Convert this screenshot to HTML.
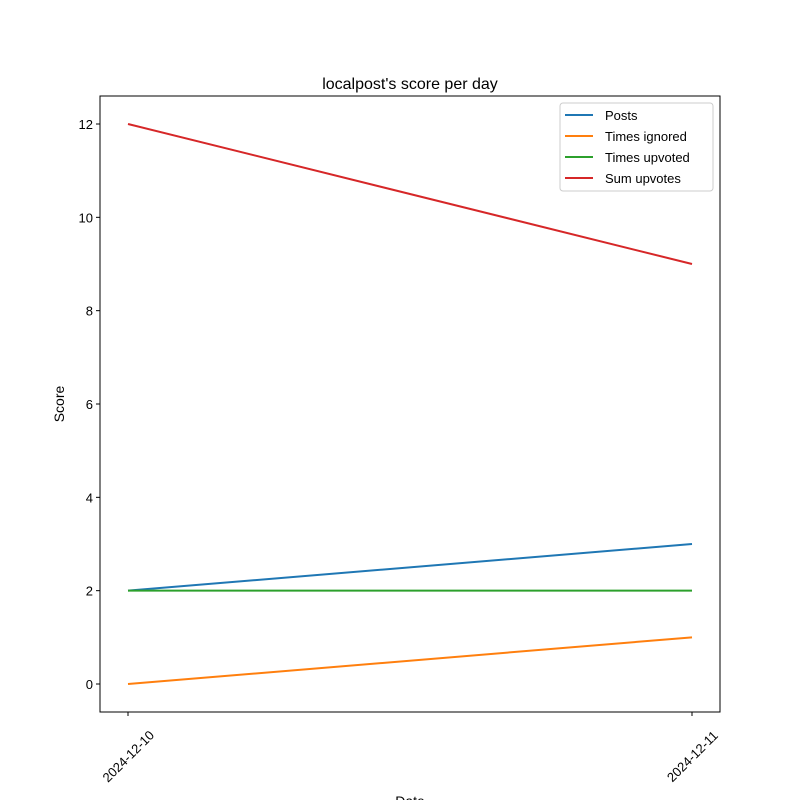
<!DOCTYPE html>
<html><head><meta charset="utf-8"><style>
body{margin:0;background:#fff}
svg{display:block;font-family:"Liberation Sans","DejaVu Sans",sans-serif}
</style></head><body>
<svg width="800" height="800" viewBox="0 0 800 800">
<rect width="800" height="800" fill="#fff"/>
<text x="410" y="89" text-anchor="middle" font-size="16">localpost's score per day</text>
<g id="plot"></g>
<rect x="100" y="96" width="620" height="616" fill="none" stroke="#000" stroke-width="1"/>
<text transform="translate(64,404) rotate(-90)" text-anchor="middle" font-size="14">Score</text>
<text x="410" y="806" text-anchor="middle" font-size="14">Date</text>
<g>
<rect x="560" y="103" width="153" height="88" rx="3" fill="#fff" fill-opacity="0.8" stroke="#ccc"/>
<g id="legend-items"></g>
</g>
</svg>
<script>
const categories = ["2024-12-10", "2024-12-11"];
const seriesNames = ["Posts", "Times ignored", "Times upvoted", "Sum upvotes"];
const posts = [2, 3];
const timesIgnored = [0, 1];
const timesUpvoted = [2, 2];
const sumUpvotes = [12, 9];
const yTicks = [0, 2, 4, 6, 8, 10, 12];

const colors = ["#1f77b4", "#ff7f0e", "#2ca02c", "#d62728"];
const allSeries = [posts, timesIgnored, timesUpvoted, sumUpvotes];
const NS = "http://www.w3.org/2000/svg";
const plot = document.getElementById("plot");
function xPos(i){ return 128 + i * (692 - 128) / (categories.length - 1); }
function yPos(v){ return 684 - v * (684 - 124) / 12; }
function mk(tag, attrs){ const e = document.createElementNS(NS, tag); for (const k in attrs) e.setAttribute(k, attrs[k]); return e; }

yTicks.forEach(t => {
  const y = yPos(t);
  const l = mk("line", {x1: 96, x2: 100, y1: y, y2: y, stroke: "#000"});
  
  
  plot.appendChild(l);
  const tx = mk("text", {x: 93, y: y + 5, "text-anchor": "end", "font-size": 13});
  
  
  tx.textContent = t;
  plot.appendChild(tx);
});
categories.forEach((c, i) => {
  const x = xPos(i);
  const l = mk("line", {x1: x, x2: x, y1: 712, y2: 716, stroke: "#000"});
  
  
  plot.appendChild(l);
  const tx = mk("text", {transform: `translate(${x},${756}) rotate(-45)`, y: 5, "text-anchor": "middle", "font-size": 13});
  
  
  tx.textContent = c;
  plot.appendChild(tx);
});
allSeries.forEach((s, si) => {
  const p = mk("polyline", {points: s.map((v, i) => xPos(i) + "," + yPos(v)).join(" "), fill: "none", stroke: colors[si], "stroke-width": 2});
  
  
  plot.appendChild(p);
});
const lg = document.getElementById("legend-items");
seriesNames.forEach((n, i) => {
  const y = 115 + i * 21;
  const g = mk("g", {});
  
  
  g.appendChild(mk("line", {x1: 565, x2: 593, y1: y, y2: y, stroke: colors[i], "stroke-width": 2}));
  const t = mk("text", {x: 605, y: y + 5, "font-size": 13});
  t.textContent = n;
  g.appendChild(t);
  lg.appendChild(g);
});
</script>
</body></html>
